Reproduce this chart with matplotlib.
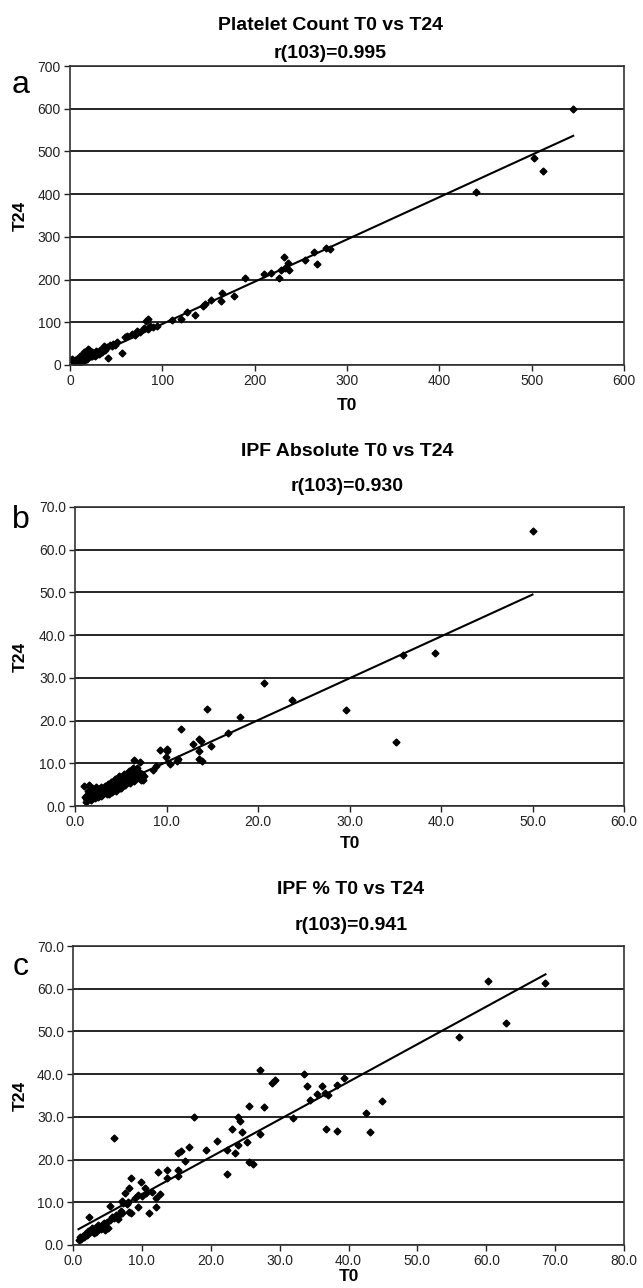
#!/usr/bin/env python3
"""Three scatter panels: T0 vs T24 for platelet count, IPF absolute and IPF %."""

import matplotlib

matplotlib.use("Agg")
import matplotlib.pyplot as plt
import numpy as np
from matplotlib.ticker import FormatStrFormatter, MultipleLocator

plt.rcParams["font.family"] = ["Liberation Sans", "DejaVu Sans"]

# ---- panel a: platelet count ----
A_T0 = [2, 3, 4, 5, 5, 6, 7, 8, 8, 9, 10, 11, 11, 12, 13, 14, 15, 15, 16, 17,
        18, 19, 19, 20, 21, 22, 23, 24, 24, 25, 26, 27, 28, 29, 30, 31, 33, 33, 35, 36,
        37, 38, 40, 41, 43, 45, 47, 49, 51, 56, 60, 62, 67, 70, 73, 76, 80, 82, 84, 85,
        87, 90, 94, 111, 120, 127, 135, 144, 146, 153, 164, 165, 178, 189, 210, 218, 226, 228, 232, 233,
        236, 237, 255, 264, 267, 277, 282, 440, 503, 512, 545]
A_T24 = [14, 10, 6, 12, 4, 3, 9, 14, 2, 5, 11, 16, 22, 8, 13, 20, 10, 30, 17, 24,
         14, 22, 37, 18, 34, 27, 20, 31, 21, 25, 28, 22, 33, 26, 29, 26, 35, 28, 31, 38,
         44, 34, 42, 16, 46, 44, 50, 47, 55, 27, 65, 68, 72, 70, 80, 78, 86, 103, 108, 84,
         92, 89, 91, 105, 107, 125, 117, 138, 143, 152, 150, 169, 162, 203, 213, 215, 203, 223, 253, 227,
         238, 222, 246, 265, 237, 273, 272, 406, 484, 454, 600]

# ---- panel b: IPF absolute ----
B_T0 = [1.0, 1.5, 1.2, 1.3, 1.4, 1.6, 1.8, 1.9, 2.0, 2.1, 2.2, 2.3, 2.4, 2.5, 2.6, 2.7, 2.8, 2.9, 3.0, 3.1,
        3.2, 3.3, 3.4, 3.5, 3.6, 3.7, 3.8, 3.9, 4.0, 4.1, 4.2, 4.3, 4.4, 4.5, 4.6, 4.7, 4.8, 4.9, 5.0, 5.2,
        5.3, 5.4, 5.5, 5.6, 5.7, 5.8, 5.9, 6.0, 6.1, 6.2, 6.3, 6.4, 6.5, 6.6, 6.8, 6.9, 7.0, 7.1, 7.2, 7.3,
        7.5, 1.1, 1.7, 2.0, 2.5, 3.0, 3.5, 4.0, 4.5, 5.0, 5.5, 6.0, 6.5, 7.0, 7.4, 2.8, 3.7, 4.8,
        8.5, 8.8, 9.3, 9.9, 10.0, 10.0, 10.4, 11.1, 11.3, 11.6, 12.9, 13.5, 13.5, 13.6, 13.8, 13.9, 14.4, 14.9,
        16.7, 18.0, 20.7, 23.7, 29.6, 35.1, 35.9, 39.3, 50.0]
B_T24 = [4.7, 4.8, 1.0, 2.6, 3.5, 2.0, 3.0, 4.2, 2.5, 3.6, 1.8, 4.5, 3.0, 2.2, 3.8, 2.8, 4.4, 3.3, 2.6, 4.0,
         3.1, 4.7, 3.6, 2.9, 5.2, 4.1, 3.4, 5.6, 4.4, 3.8, 5.0, 4.2, 6.3, 3.6, 5.4, 4.6, 7.0, 4.1, 5.8, 6.8,
         5.1, 7.6, 4.8, 6.4, 7.1, 5.7, 8.3, 8.2, 6.0, 7.4, 8.8, 10.7, 7.9, 6.5, 9.0, 6.8, 8.0, 10.3, 6.2, 7.5,
         7.1, 2.2, 1.5, 3.9, 4.0, 3.8, 4.5, 3.2, 5.0, 4.3, 6.0, 5.3, 5.8, 6.5, 6.0, 2.4, 2.9, 5.9,
         8.5, 9.3, 13.2, 11.5, 13.4, 12.9, 9.8, 10.6, 11.1, 18.1, 14.6, 12.8, 15.8, 11.1, 15.2, 10.5, 22.8, 14.1,
         17.1, 20.8, 28.7, 24.9, 22.4, 15.0, 35.3, 35.9, 64.3]

# ---- panel c: IPF % ----
C_T0 = [0.8, 1.0, 1.2, 1.4, 1.6, 2.0, 2.3, 2.5, 2.8, 3.0, 3.2, 3.5, 3.8, 4.0, 4.3, 4.5, 5.1, 5.3, 5.3, 5.6,
        5.9, 6.3, 6.6, 6.9, 7.1, 7.3, 7.5, 7.1, 8.1, 8.4, 8.2, 8.4, 8.0, 9.5, 9.5, 9.9, 10.4, 10.6, 11.1, 12.1,
        12.1, 12.6, 12.3, 13.6, 13.6, 15.2, 15.3, 15.3, 15.7, 16.2, 16.9, 17.5, 19.3, 20.9, 22.4, 22.4, 23.1, 23.5,
        23.9, 23.9, 24.2, 24.5, 25.2, 25.6, 25.6, 26.1, 27.1, 27.2, 27.8, 28.9, 29.4, 31.9, 33.6, 34.0, 34.4, 35.4,
        36.1, 36.6, 37.0, 36.7, 38.3, 38.4, 39.4, 42.5, 43.1, 44.9, 56.1, 60.2, 62.9, 68.6,
        1.8, 2.2, 2.7, 3.3, 3.6, 4.2, 4.8, 5.0, 6.0, 6.8, 7.8, 9.0, 10.0, 11.5, 4.6]
C_T24 = [1.2, 1.8, 1.5, 2.0, 1.9, 2.4, 6.6, 3.0, 3.3, 2.9, 4.0, 3.6, 4.2, 3.8, 4.8, 5.1, 3.9, 5.9, 9.1, 6.6,
         25.1, 7.0, 6.1, 8.0, 10.4, 9.8, 12.1, 7.4, 7.8, 7.6, 13.3, 15.8, 10.0, 9.0, 11.7, 14.8, 13.3, 12.1, 7.4, 9.0,
         10.9, 11.9, 17.2, 17.6, 15.8, 16.2, 17.6, 21.5, 22.1, 19.7, 23.0, 30.0, 22.2, 24.4, 22.2, 16.6, 27.1, 21.5,
         23.4, 29.9, 29.1, 26.5, 24.2, 32.6, 19.5, 19.0, 41.0, 26.0, 32.4, 37.9, 38.6, 29.7, 40.0, 37.2, 34.0, 35.4,
         37.2, 35.6, 35.2, 27.2, 37.5, 26.8, 39.2, 30.8, 26.4, 33.7, 48.6, 61.9, 52.0, 61.4,
         2.6, 3.2, 3.9, 3.1, 4.6, 4.4, 4.3, 5.5, 6.4, 7.2, 9.5, 11.0, 11.4, 12.5, 3.6]

# trend lines (slope, intercept)
TRENDS = [(0.99, -3.0), (0.98, 0.5), (0.88, 3.0)]

TITLES = ["Platelet Count T0 vs T24", "IPF Absolute T0 vs T24", "IPF % T0 vs T24"]
R_DF = 103
R_VALUES = [0.995, 0.930, 0.941]
LETTERS = ["a", "b", "c"]
X_MAX = [600, 60, 80]
X_STEP = [100, 10, 10]
Y_MAX = [700, 70, 70]
Y_STEP = [100, 10, 10]
FMT = ["%d", "%.1f", "%.1f"]

W, H = 643, 1288
# axes boxes in pixels: left, top, right, bottom
BOXES = [(70, 66, 624, 365), (75, 507, 624, 806), (73, 946, 624, 1245)]
TITLE_Y = [(25, 53), (452, 487), (890, 925)]
TITLE_X = [330, 347, 351]
LETTER_Y = [85, 520, 967]
XLABEL_PAD = [7, 5, 1]


def px_rect(box):
    l, t, r, b = box
    return [l / W, (H - b) / H, (r - l) / W, (b - t) / H]


def main():
    fig = plt.figure(figsize=(W / 100, H / 100), dpi=100)
    data = [(A_T0, A_T24), (B_T0, B_T24), (C_T0, C_T24)]
    for i, (x, y) in enumerate(data):
        ax = fig.add_axes(px_rect(BOXES[i]))
        ax.plot(x, y, ls="none", marker="D", ms=3.5, color="black", mec="black")
        slope, icpt = TRENDS[i]
        xs = np.array([min(x), max(x)])
        ax.plot(xs, slope * xs + icpt, color="black", lw=1.5)

        ax.set_xlim(0, X_MAX[i])
        ax.set_ylim(0, Y_MAX[i])
        ax.xaxis.set_major_locator(MultipleLocator(X_STEP[i]))
        ax.yaxis.set_major_locator(MultipleLocator(Y_STEP[i]))
        ax.xaxis.set_major_formatter(FormatStrFormatter(FMT[i]))
        ax.yaxis.set_major_formatter(FormatStrFormatter(FMT[i]))
        ax.grid(axis="y", color="black", lw=1.2)
        ax.set_axisbelow(True)
        for sp in ax.spines.values():
            sp.set_color("#333333")
            sp.set_linewidth(1.2)
        ax.tick_params(axis="both", direction="out", length=4, width=1.0,
                       labelsize=10, colors="#222222", pad=2.5)

        ax.set_xlabel("T0", fontsize=12.5, weight="bold", labelpad=XLABEL_PAD[i])
        l, t, r, b = BOXES[i]
        ax.set_ylabel("T24", fontsize=12.5, weight="bold")
        ax.yaxis.set_label_coords((28 - l) / (r - l), 0.5)

        fig.text(TITLE_X[i] / W, 1 - TITLE_Y[i][0] / H, TITLES[i], ha="center",
                 va="center", fontsize=14, weight="bold")
        fig.text(TITLE_X[i] / W, 1 - TITLE_Y[i][1] / H, f"r({R_DF})={R_VALUES[i]:.3f}",
                 ha="center", va="center", fontsize=14, weight="bold")
        fig.text(21 / W, 1 - LETTER_Y[i] / H, LETTERS[i], ha="center", va="center",
                 fontsize=23)

    fig.savefig("out.png", dpi=100, facecolor="white")
    plt.close(fig)


if __name__ == "__main__":
    main()
